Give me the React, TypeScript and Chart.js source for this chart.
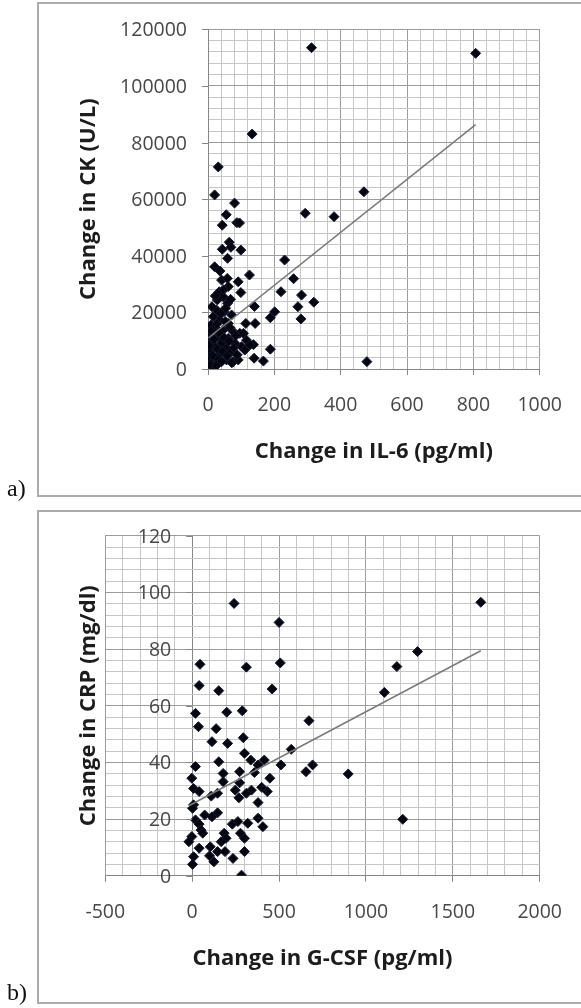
import React, { useEffect, useRef } from 'react';
import { Chart, registerables } from 'chart.js';

Chart.register(...registerables);

// ---------- Panel a: IL-6 vs CK ----------
const il6Change = [
  312, 807, 133, 31, 20, 470, 293, 380, 80, 55, 43, 87, 95, 64, 43, 69, 99, 59, 20, 36,
  125, 231, 258, 41, 58, 91, 61, 220, 282, 99, 34, 46, 319, 271, 28, 59, 140, 201, 188, 280,
  26, 48, 71, 16, 36, 61, 114, 142, 9, 24, 46, 76, 96, 1, 31, 61, 116, 11, 41, 81,
  137, 21, 56, 101, 126, 188, 6, 36, 71, 111, 1, 26, 56, 91, 139, 167, 479, 11, 41, 76,
  16, 107, 5, 14, 19, 29, 33, 38, 44, 49, 52, 58, 63, 66, 72, 78, 84, 12, 22, 47,
  3, 9, 27, 53, 68, 88, 25,
];
const ckChange = [
  113500, 111500, 83000, 71400, 61500, 62600, 55000, 53800, 58600, 54500, 50800, 51700, 51600, 44800, 42300, 43000, 42000, 39100, 36100, 34600,
  33200, 38500, 31900, 31400, 32000, 30800, 29100, 27300, 26100, 27000, 27300, 25500, 23600, 22000, 24400, 23200, 22100, 20200, 18100, 17700,
  20800, 20200, 19100, 18500, 17300, 16100, 16100, 16100, 15500, 14400, 13800, 13200, 12600, 12000, 11400, 10800, 10200, 9600, 9100, 9100,
  8600, 7900, 7300, 7900, 8500, 7000, 6100, 5500, 6100, 6700, 4300, 3800, 3200, 3200, 3800, 2800, 2600, 2000, 2600, 2600,
  1000, 12600, 1500, 4800, 10500, 7000, 12900, 19600, 6200, 11000, 16800, 4600, 9800, 14600, 2200, 7500, 11800, 22000, 25800, 28000,
  8300, 13500, 16000, 21500, 24600, 5000, 1200,
];
const ckTrendX = [1, 807];
const ckTrendY = [11000, 86300];
const axisAX = [0, 1000, 200, 40]; // min, max, major step, minor step
const axisAY = [0, 120000, 20000, 4000];
const titlesA = ['Change in IL-6 (pg/ml)', 'Change in CK (U/L)'];

// ---------- Panel b: G-CSF vs CRP ----------
const gcsfChange = [
  1661, 241, 500, 1297, 1178, 507, 312, 45, 40, 153, 460, 1106, 288, 199, 19, 36, 138, 672, 294, 114,
  204, 570, 301, 337, 153, 415, 511, 693, 655, 898, 19, 379, -2, 178, 273, 358, 447, 178, 273, 8,
  40, 248, 341, 400, 432, 312, 110, 146, 269, 379, 8, 2, 146, 72, 114, 19, 40, 231, 263, 320,
  379, 407, 51, 61, 184, 278, -2, 195, 301, 167, -19, 104, 40, 146, 189, 301, 100, 8, 235, 125,
  2, 284, 1212,
];
const crpChange = [
  96.5, 96.1, 89.4, 79.1, 73.8, 75.1, 73.6, 74.6, 67.1, 65.3, 65.9, 64.7, 58.2, 57.7, 57.3, 52.6, 51.9, 54.7, 48.7, 47.3,
  46.7, 44.6, 43.2, 40.8, 40.2, 40.8, 39.1, 39.1, 36.7, 35.9, 38.5, 39.1, 34.4, 36.1, 36.7, 36.4, 34.4, 33.2, 32.8, 30.8,
  29.7, 30.2, 30.2, 31.2, 29.7, 29.1, 28.1, 29.1, 27.5, 25.8, 25.0, 23.8, 22.2, 21.4, 20.8, 19.7, 18.2, 18.2, 19.1, 18.5,
  20.3, 17.3, 16.1, 15.0, 15.0, 15.0, 13.8, 13.2, 13.2, 12.0, 12.0, 10.2, 9.7, 8.5, 8.5, 8.5, 7.0, 6.7, 6.1, 4.9,
  4.0, 0.2, 19.9,
];
const crpTrendX = [-19, 1661];
const crpTrendY = [24.7, 79.4];
const axisBX = [-500, 2000, 500, 100];
const axisBY = [0, 120, 20, 4];
const titlesB = ['Change in G-CSF (pg/ml)', 'Change in CRP (mg/dl)'];

// ---------- styling ----------
const MAJOR = '#9c9c9c';
const MINOR = '#c6c6c6';
const AXIS = '#868686';
const TICK_COLOR = '#474747';
const TITLE_COLOR = '#1c1c1c';
const FONT = '"Open Sans", "Noto Sans", sans-serif';

const crossLabels = {
  id: 'crossLabels',
  afterDraw(chart: any, _args: any, opts: any) {
    const { ctx, scales } = chart;
    const xs = scales.x;
    const ys = scales.y;
    const x0 = xs.getPixelForValue(0);
    ctx.save();
    ctx.font = `${opts.size}px ${FONT}`;
    ctx.fillStyle = TICK_COLOR;
    ctx.textAlign = 'right';
    ctx.textBaseline = 'middle';
    ctx.strokeStyle = AXIS;
    ctx.lineWidth = 1;
    ys.ticks.forEach((t: any) => {
      if (t.value % opts.major !== 0) return;
      const py = Math.round(ys.getPixelForValue(t.value)) + 0.5;
      ctx.beginPath();
      ctx.moveTo(x0 - 6, py);
      ctx.lineTo(x0, py);
      ctx.stroke();
      ctx.fillText(String(t.value), x0 - 21, py + 1);
    });
    ctx.restore();
  },
};

function makeConfig(
  xs: number[], ys: number[], tx: number[], ty: number[],
  ax: number[], ay: number[], titles: string[],
  pad: { left: number; right: number; top: number; bottom: number }, yWidth: number,
): any {
  const pts = xs.map((x, i) => ({ x, y: ys[i] }));
  const trend = tx.map((x, i) => ({ x, y: ty[i] }));
  return {
    type: 'scatter',
    data: {
      datasets: [
        {
          data: trend,
          showLine: true,
          borderColor: '#7a7a7a',
          borderWidth: 1.5,
          pointRadius: 0,
          fill: false,
        },
        {
          data: pts,
          pointStyle: 'rectRot',
          pointRadius: 5,
          backgroundColor: '#05050f',
          borderColor: '#121c30',
          borderWidth: 1,
        },
      ],
    },
    options: {
      animation: false,
      responsive: false,
      devicePixelRatio: 1,
      events: [],
      layout: { padding: pad },
      plugins: {
        legend: { display: false },
        tooltip: { enabled: false },
        crossLabels: { major: ay[2], size: 19.5 },
      },
      scales: {
        x: {
          type: 'linear',
          position: 'bottom',
          min: ax[0],
          max: ax[1],
          afterFit: (s: any) => { s.height = 100; },
          ticks: {
            stepSize: ax[3],
            autoSkip: false,
            maxRotation: 0,
            minRotation: 0,
            padding: 19,
            color: TICK_COLOR,
            font: { family: FONT, size: 19.5 },
            callback: (v: any) => (Number(v) % ax[2] === 0 ? String(v) : ''),
          },
          grid: {
            color: (c: any) => {
              const v = c.tick ? c.tick.value : 1;
              if (v === 0 && ax[0] < 0) return AXIS;
              return v % ax[2] === 0 ? MAJOR : MINOR;
            },
            tickColor: (c: any) => (c.tick && c.tick.value % ax[2] === 0 ? AXIS : 'rgba(0,0,0,0)'),
            tickLength: 6,
            drawTicks: true,
          },
          border: { display: true, color: AXIS },
          title: {
            display: true,
            text: titles[0],
            color: TITLE_COLOR,
            font: { family: FONT, size: 22, weight: 'bold' },
            padding: { top: 0, bottom: 4 },
          },
        },
        y: {
          type: 'linear',
          position: 'left',
          min: ay[0],
          max: ay[1],
          afterFit: (s: any) => { s.width = yWidth; },
          ticks: {
            stepSize: ay[3],
            display: false,
          },
          grid: {
            color: (c: any) => (c.tick && c.tick.value % ay[2] === 0 ? MAJOR : MINOR),
            drawTicks: false,
          },
          border: { display: true, color: ax[0] < 0 ? MAJOR : AXIS },
          title: {
            display: true,
            text: titles[1],
            color: TITLE_COLOR,
            font: { family: FONT, size: 22, weight: 'bold' },
            padding: { top: 0, bottom: 0 },
          },
        },
      },
    },
    plugins: [crossLabels],
  };
}

function Panel(props: { cfg: any; w: number; h: number; top: number }) {
  const ref = useRef<HTMLCanvasElement | null>(null);
  useEffect(() => {
    if (!ref.current) return;
    const chart = new Chart(ref.current, props.cfg);
    return () => chart.destroy();
  }, []);
  return (
    <canvas
      ref={ref}
      width={props.w}
      height={props.h}
      style={{ position: 'absolute', left: 0, top: props.top, width: props.w, height: props.h }}
    />
  );
}

export default function App() {
  const cfgA = makeConfig(
    il6Change, ckChange, ckTrendX, ckTrendY, axisAX, axisAY, titlesA,
    { left: 75.6, right: 39.5, top: 29.3, bottom: 31 }, 132.4,
  );
  const cfgB = makeConfig(
    gcsfChange, crpChange, crpTrendX, crpTrendY, axisBX, axisBY, titlesB,
    { left: 75.6, right: 40, top: 35.7, bottom: 32.3 }, 29.7,
  );
  const boxStyle = (top: number, height: number): React.CSSProperties => ({
    position: 'absolute',
    left: 37,
    top,
    width: 544,
    height,
    boxSizing: 'border-box',
    borderLeft: '2px solid #ababab',
    borderTop: '2px solid #ababab',
    borderBottom: '2px solid #ababab',
  });
  const labelStyle = (top: number): React.CSSProperties => ({
    position: 'absolute',
    left: 7,
    top,
    fontFamily: '"Liberation Serif", "Times New Roman", serif',
    fontSize: 24,
    lineHeight: '24px',
    color: '#111',
  });
  return (
    <div style={{ position: 'absolute', left: 0, top: 0, width: 581, height: 1008, overflow: 'hidden', background: '#fff' }}>
      <div style={boxStyle(2, 495)} />
      <div style={boxStyle(510, 494)} />
      <Panel cfg={cfgA} w={581} h={500} top={0} />
      <Panel cfg={cfgB} w={581} h={508} top={500} />
      <div style={labelStyle(476)}>a)</div>
      <div style={labelStyle(980)}>b)</div>
    </div>
  );
}
